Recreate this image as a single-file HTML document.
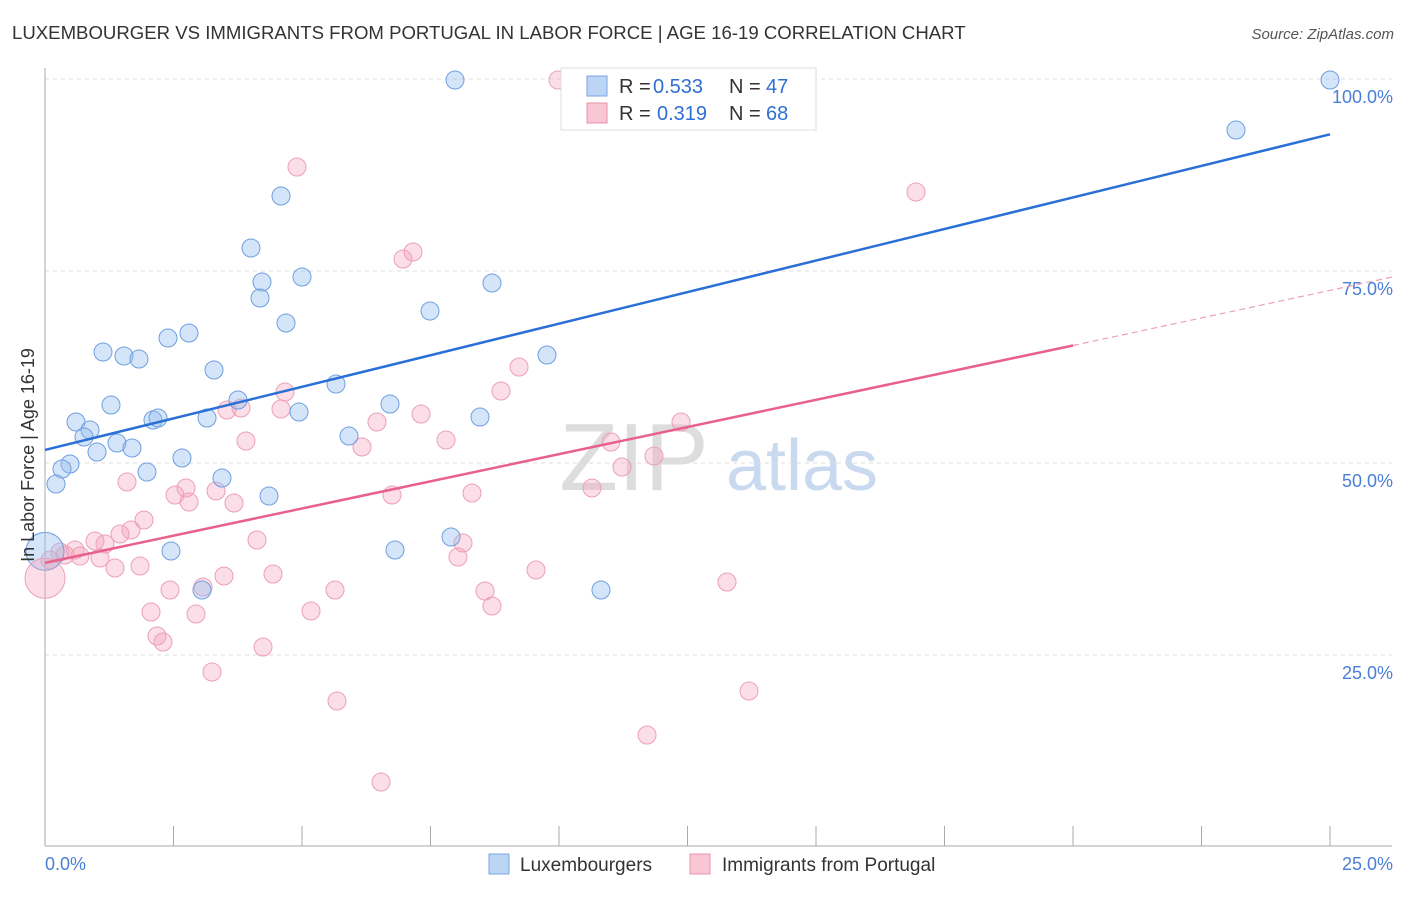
<!DOCTYPE html>
<html><head><meta charset="utf-8"><style>
body{margin:0;background:#fff;font-family:"Liberation Sans",sans-serif}
svg text{font-family:"Liberation Sans",sans-serif}
</style></head><body>
<svg id="chart" width="1406" height="892" xmlns="http://www.w3.org/2000/svg">
<text x="12" y="39" font-size="18.6" fill="#333">LUXEMBOURGER VS IMMIGRANTS FROM PORTUGAL IN LABOR FORCE | AGE 16-19 CORRELATION CHART</text>
<text x="1394" y="39" font-size="15" fill="#555" font-style="italic" text-anchor="end">Source: ZipAtlas.com</text>
<text x="634" y="490" font-size="96" fill="#ddd" font-family="Liberation Serif" text-anchor="middle">ZIP</text>
<text x="802" y="490" font-size="72" fill="#c9daf0" text-anchor="middle">atlas</text>
<g id="grid"></g><g id="axes"></g><g id="pts"></g><g id="lines"></g>
<text x="34" y="455" font-size="18" fill="#333" text-anchor="middle" transform="rotate(-90 34 455)">In Labor Force | Age 16-19</text>
<g>
<rect x="561" y="68" width="255" height="62" fill="#fff" stroke="#ddd"/>
<rect x="587" y="76" width="20" height="20" fill="#bcd5f5" stroke="#7aa6e0"/>
<rect x="587" y="103" width="20" height="20" fill="#f8c6d4" stroke="#e890aa"/>
<text x="619" y="93" font-size="20" fill="#333">R = </text>
<text x="653" y="93" font-size="20" fill="#2f6fd4">0.533</text>
<text x="729" y="93" font-size="20" fill="#333">N = </text>
<text x="766" y="93" font-size="20" fill="#2f6fd4">47</text>
<text x="619" y="120" font-size="20" fill="#333">R = </text>
<text x="657" y="120" font-size="20" fill="#2f6fd4">0.319</text>
<text x="729" y="120" font-size="20" fill="#333">N = </text>
<text x="766" y="120" font-size="20" fill="#2f6fd4">68</text>
</g>
<g>
<rect x="489" y="854" width="20" height="20" fill="#bcd5f5" stroke="#7aa6e0"/>
<text x="520" y="871" font-size="19" fill="#333">Luxembourgers</text>
<rect x="690" y="854" width="20" height="20" fill="#f8c6d4" stroke="#e890aa"/>
<text x="722" y="871" font-size="19" fill="#333">Immigrants from Portugal</text>
</g>
</svg>
<script>
const blueX=[455,1330,1236,281,251,262,302,260,492,286,430,189,168,103,124,139,547,214,336,111,238,76,153,158,207,299,390,480,90,84,117,132,97,349,182,70,62,147,222,56,269,171,395,451,601,202];
const blueY=[80,80,130,196,248,282,277,298,283,323,311,333,338,352,356,359,355,370,384,405,400,422,420,418,418,412,404,417,430,437,443,448,452,436,458,464,469,472,478,484,496,551,550,537,590,590];
const pinkX=[558,297,916,413,403,519,501,285,227,241,281,421,377,681,446,611,246,362,654,622,127,186,175,216,392,472,189,234,592,144,131,120,95,105,257,463,75,60,80,100,65,50,458,115,140,273,224,536,727,170,203,335,485,492,151,196,311,157,163,263,212,749,337,647,381];
const pinkY=[80,167,192,252,259,367,391,392,410,408,409,414,422,422,440,442,441,447,456,467,482,488,495,491,495,493,502,503,488,520,530,534,541,544,540,543,550,552,556,558,555,560,557,568,566,574,576,570,582,590,587,590,591,606,612,614,611,636,642,647,672,691,701,735,782];
const toX=p=>(p-45)/1285*25, toY=p=>(847-p)/768*100;
const blueData=blueX.map((p,i)=>[toX(p),toY(blueY[i])]);
const pinkData=pinkX.map((p,i)=>[toX(p),toY(pinkY[i])]);
const xTicks=[0,2.5,5,7.5,10,12.5,15,17.5,20,22.5,25];
const yTicks=[25,50,75,100];
const yTickLabels=["25.0%","50.0%","75.0%","100.0%"];
const blueLine=[[0,51.7],[25,92.8]];
const pinkLine=[[0,37.0],[20,65.3]];
const pinkDash=[[20,65.3],[26.2,74.2]];
const X=v=>45+v/25*1285, Y=v=>847-v/100*768;
const NS="http://www.w3.org/2000/svg";
function mk(tag,at,parent){const e=document.createElementNS(NS,tag);for(const k in at)e.setAttribute(k,at[k]);document.getElementById(parent).appendChild(e);return e;}
yTicks.forEach((t,i)=>{
 const g=mk('line',{x1:45,x2:1392,y1:Y(t),y2:Y(t),stroke:'#ddd','stroke-dasharray':'4 4'},'grid');
 
 
 const l=mk('text',{x:1393,y:Y(t)+24,'font-size':18,fill:'#4a7fd6','text-anchor':'end'},'axes');
 l.textContent=yTickLabels[i];
 
 
});
const ax=mk('line',{x1:45,x2:45,y1:68,y2:846,stroke:'#aaa'},'axes');


const bx=mk('line',{x1:45,x2:1392,y1:846,y2:846,stroke:'#aaa'},'axes');


xTicks.forEach(t=>{const e=mk('line',{x1:X(t),x2:X(t),y1:826,y2:846,stroke:'#aaa'},'axes');
 
 });
const x0=mk('text',{x:45,y:870,'font-size':18,fill:'#4a7fd6'},'axes');x0.textContent='0.0%';


const x1=mk('text',{x:1393,y:870,'font-size':18,fill:'#4a7fd6','text-anchor':'end'},'axes');x1.textContent='25.0%';


pinkData.forEach(d=>{const c=mk('circle',{cx:X(d[0]),cy:Y(d[1]),r:9,fill:'rgba(244,160,185,0.35)',stroke:'#eca0b8','stroke-width':1},'pts');
 
 });
blueData.forEach(d=>{const c=mk('circle',{cx:X(d[0]),cy:Y(d[1]),r:9,fill:'rgba(150,190,240,0.4)',stroke:'#6f9fe0','stroke-width':1},'pts');
 
 });
const bb=mk('circle',{cx:X(0),cy:Y(38.5),r:19,fill:'rgba(150,190,240,0.4)',stroke:'#6f9fe0'},'pts');


const pb=mk('circle',{cx:X(0),cy:Y(35),r:20,fill:'rgba(244,160,185,0.35)',stroke:'#eca0b8'},'pts');


const l1=mk('line',{x1:X(blueLine[0][0]),y1:Y(blueLine[0][1]),x2:X(blueLine[1][0]),y2:Y(blueLine[1][1]),stroke:'#2a6fd6','stroke-width':2.5},'lines');


const l2=mk('line',{x1:X(pinkLine[0][0]),y1:Y(pinkLine[0][1]),x2:X(pinkLine[1][0]),y2:Y(pinkLine[1][1]),stroke:'#e8608c','stroke-width':2.5},'lines');


const l3=mk('line',{x1:X(pinkDash[0][0]),y1:Y(pinkDash[0][1]),x2:X(pinkDash[1][0]),y2:Y(pinkDash[1][1]),stroke:'#eca0b8','stroke-width':1.2,'stroke-dasharray':'6 4'},'lines');


</script>
</body></html>
